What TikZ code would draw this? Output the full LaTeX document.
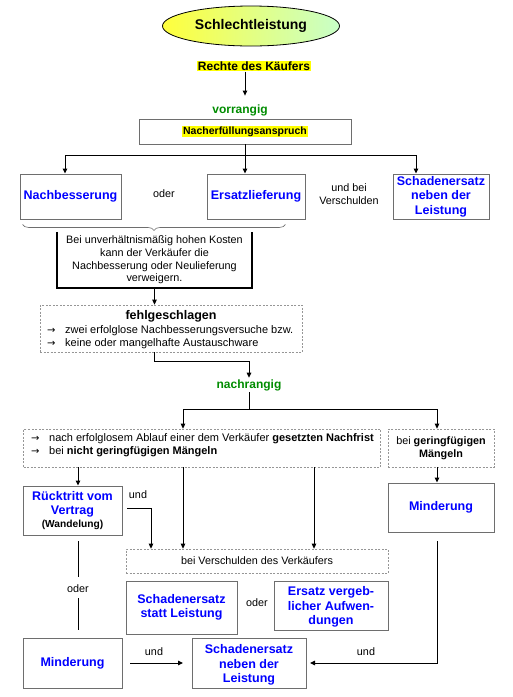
\documentclass[tikz,border=0pt]{standalone}
\usepackage{fontspec}
\setmainfont{Liberation Sans}
\newfontfamily\dejavu{DejaVu Sans}
\usetikzlibrary{shapes.geometric,arrows.meta,decorations.pathreplacing,calc}
\definecolor{boxgray}{RGB}{110,110,110}
\definecolor{dashgray}{RGB}{150,150,150}
\definecolor{titleblue}{RGB}{0,0,255}
\definecolor{rankgreen}{RGB}{0,140,0}
\definecolor{hlyellow}{RGB}{255,255,0}
\definecolor{ellyellow}{RGB}{255,255,60}
\definecolor{ellgreen}{RGB}{200,255,200}
\setlength{\fboxsep}{1pt}
\newcommand{\itemarrow}{\makebox[18pt][l]{\dejavu\fontsize{10}{11}\selectfont →}}
\begin{document}
\begin{tikzpicture}[x=1pt,y=-1pt,
 solidbox/.style={draw=boxgray,line width=0.9pt,inner sep=0pt,align=center},
 dashbox/.style={draw=dashgray,line width=0.7pt,dash pattern=on 2pt off 1.5pt,inner sep=0pt,align=center},
 bluetext/.style={text=titleblue,font=\fontsize{12.5}{14.5}\selectfont\bfseries},
 plain/.style={font=\fontsize{10.8}{12.6}\selectfont,inner sep=0pt,align=center},
 itemtext/.style={font=\fontsize{11}{12}\selectfont,inner sep=0pt,anchor=west},
 conn/.style={line width=1pt,black},
 arr/.style={conn,-{Triangle[length=5pt,width=4.5pt]}},
 ]
\useasboundingbox (0,0) rectangle (513,697);

% title
\node[ellipse,draw=black,line width=0.8pt,minimum width=177pt,minimum height=40pt,
      left color=ellyellow,right color=ellgreen,
      font=\fontsize{14}{16}\selectfont\bfseries] (schlecht) at (251,26) {Schlechtleistung};
\node[fill=hlyellow,inner sep=1pt,font=\fontsize{12}{14}\selectfont\bfseries] (rechte) at (254,66) {Rechte des Käufers};
\node[font=\fontsize{12}{14}\selectfont\bfseries,text=rankgreen,inner sep=1pt] (vorr) at (240,110) {vorrangig};
\draw[arr] ([xshift=-9pt]rechte.south) -- ++(0,24);

\node[solidbox,minimum width=212pt,minimum height=25pt,font=\fontsize{10.5}{12}\selectfont\bfseries] (na) at (245,131.5) {\colorbox{hlyellow}{Nacherfüllungsanspruch}};

% first row
\node[solidbox,bluetext,minimum width=101pt,minimum height=45pt] (nb) at (70.5,196.5) {Nachbesserung};
\node[solidbox,bluetext,minimum width=98pt,minimum height=45pt] (el) at (256,196.5) {Ersatzlieferung};
\node[solidbox,bluetext,minimum width=96pt,minimum height=45pt] (sn1) at (441,196.5) {Schadenersatz\\neben der\\Leistung};
\node[plain] (oder1) at (164,194) {oder};
\node[plain,font=\fontsize{10.8}{13}\selectfont] (undbei) at (349,194) {und bei\\Verschulden};

\coordinate (f1) at (245,155);
\draw[conn] (na.south) -- (f1);
\draw[arr] (f1) -| ([xshift=-5.5pt]nb.north);
\draw[arr] (f1) -| ([xshift=-11pt]el.north);
\draw[arr] (f1) -| ([xshift=-25pt]sn1.north);

% brace + cost box
\draw[decorate,decoration={brace,mirror,amplitude=6pt},draw=boxgray,line width=0.6pt]
  ([shift={(3pt,-5pt)}]nb.south west) -- ([shift={(-20pt,-5pt)}]el.south east);
\node[plain,minimum width=195pt,minimum height=56pt] (kost) at (154.5,260)
  {Bei unverhältnismäßig hohen Kosten\\kann der Verkäufer die\\Nachbesserung oder Neulieferung\\verweigern.};
\draw[line width=1.6pt] (kost.north west) -- (kost.south west) -- (kost.south east) -- (kost.north east);

% fehlgeschlagen
\node[dashbox,minimum width=262pt,minimum height=47pt] (fehl) at (171,328.5) {};
\node[font=\fontsize{12.5}{14}\selectfont\bfseries,inner sep=0pt] (fehlt) at (171,316) {fehlgeschlagen};
\node[itemtext] (fi1) at (47,331) {\itemarrow zwei erfolglose Nachbesserungsversuche bzw.};
\node[itemtext] (fi2) at (47,344) {\itemarrow keine oder mangelhafte Austauschware};
\draw[arr] (kost.south) -- (kost.south |- fehl.north);

% nachrangig
\node[font=\fontsize{12}{14}\selectfont\bfseries,text=rankgreen,inner sep=1.5pt] (nachr) at (249,385) {nachrangig};
\draw[arr] (kost.south |- fehl.south) -- ++(0,9) -| (nachr.north);
\coordinate (f2) at (249,409);
\draw[conn] (nachr.south) -- (f2);

\node[dashbox,minimum width=357pt,minimum height=38pt] (d1) at (202,448) {};
\node[itemtext] (d1i1) at (31,439) {\itemarrow nach erfolglosem Ablauf einer dem Verkäufer \textbf{gesetzten Nachfrist}};
\node[itemtext] (d1i2) at (31,452) {\itemarrow bei \textbf{nicht geringfügigen Mängeln}};
\node[dashbox,plain,font=\fontsize{10.8}{13}\selectfont,minimum width=106pt,minimum height=38pt] (d2) at (441,448) {bei \textbf{geringfügigen}\\\textbf{Mängeln}};
\draw[arr] (f2) -| ([xshift=-19pt]d1.north);
\draw[arr] (f2) -| ([xshift=-4pt]d2.north);

% second level
\node[solidbox,bluetext,minimum width=99pt,minimum height=49pt] (rv) at (72.5,510.5)
  {Rücktritt vom\\Vertrag\\[-2pt]\textcolor{black}{\fontsize{10.2}{12}\selectfont(Wandelung)}};
\node[solidbox,bluetext,minimum width=106pt,minimum height=49pt] (mr) at (441,507.5) {Minderung};
\node[dashbox,plain,minimum width=262pt,minimum height=24pt] (vb) at (257,561) {bei Verschulden des Verkäufers};
\node[plain] (und1) at (138,495) {und};

\draw[arr] ([xshift=-124pt]d1.south) -- ([xshift=-124pt]d1.south |- rv.north);
\draw[arr] ([xshift=-19pt]d1.south) -- ([xshift=-19pt]d1.south |- vb.north);
\draw[arr] ([xshift=112pt]d1.south) -- ([xshift=112pt]d1.south |- vb.north);
\draw[arr] ([xshift=-4pt]d2.south) -- ([xshift=-4pt]d2.south |- mr.north);
\draw[arr] ([shift={(5pt,2.5pt)}]rv.east) -| ([xshift=-106pt]vb.north);

% third level
\node[solidbox,bluetext,minimum width=111pt,minimum height=53pt] (ssl) at (181.5,607.5) {Schadenersatz\\statt Leistung};
\node[plain] (oder4) at (257,603) {oder};
\draw[solidbox] (274,581) rectangle (388,630);
\begin{scope}
\clip (274,581) rectangle (388,629.5);
\node[bluetext,inner sep=0pt,align=center] (eva) at (331,607) {Ersatz vergeb-\\licher Aufwen-\\dungen};
\end{scope}

\node[plain] (oder3) at (78,589) {oder};
\draw[conn,shorten <=6pt,shorten >=8pt] (rv.south -| oder3.north) -- (oder3.north);

\node[solidbox,bluetext,minimum width=99pt,minimum height=50pt] (ml) at (72.5,663) {Minderung};
\draw[conn,shorten <=5pt,shorten >=8pt] (oder3.south) -- (oder3.south |- ml.north);

\draw[solidbox] (192,638) rectangle (306,688);
\begin{scope}
\clip (192,638) rectangle (306,687.5);
\node[bluetext,inner sep=0pt,align=center] (snbt) at (249,665) {Schadenersatz\\neben der\\Leistung};
\end{scope}
\coordinate (snbW) at (192,663);
\coordinate (snbE) at (306,663);
\node[plain] (und3) at (154,652) {und};
\draw[arr,shorten <=8pt,shorten >=9pt] (ml.east) -- (snbW);
\node[plain] (und4) at (366,652) {und};
\draw[arr,shorten <=9pt,shorten >=4pt] ([xshift=-4pt]mr.south) |- (snbE);
\end{tikzpicture}
\end{document}
